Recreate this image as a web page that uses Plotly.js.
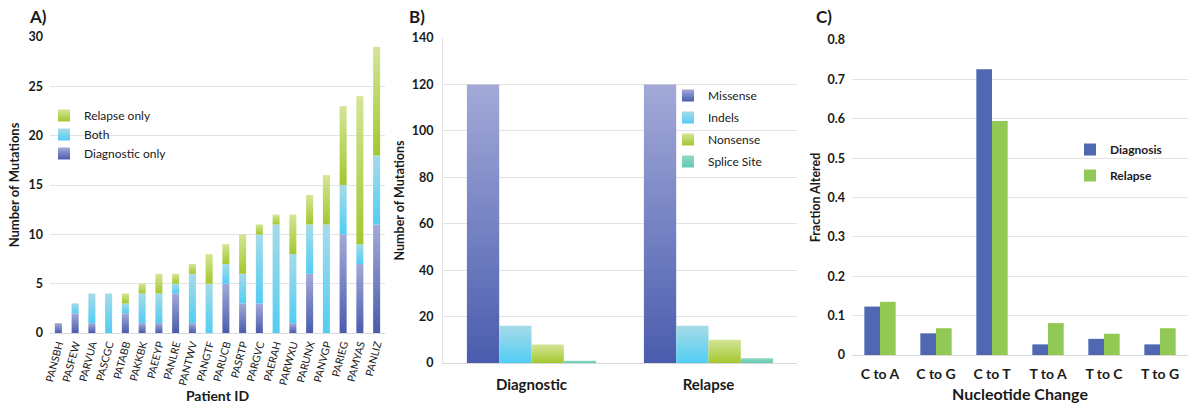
<!DOCTYPE html>
<html><head><meta charset="utf-8">
<script src="https://cdn.plot.ly/plotly-3.0.1.min.js"></script>
<style>html,body{margin:0;padding:0;background:#fff}#chart{width:1191px;height:412px}</style>
</head><body>
<svg width="0" height="0" style="position:absolute">
  <defs>
    <linearGradient id="gBlue" x1="0" y1="0" x2="0" y2="1"><stop offset="0" stop-color="#a3aad8"/><stop offset="1" stop-color="#4a5cae"/></linearGradient>
    <linearGradient id="gCyan" x1="0" y1="0" x2="0" y2="1"><stop offset="0" stop-color="#a6dbe8"/><stop offset="1" stop-color="#52cdf3"/></linearGradient>
    <linearGradient id="gGreen" x1="0" y1="0" x2="0" y2="1"><stop offset="0" stop-color="#d4e596"/><stop offset="1" stop-color="#a4c72f"/></linearGradient>
    <linearGradient id="gTeal" x1="0" y1="0" x2="0" y2="1"><stop offset="0" stop-color="#8fd8c4"/><stop offset="1" stop-color="#63cbb0"/></linearGradient>
  </defs>
</svg>
<div id="chart"></div>
<script>
// ---- Panel A data ----
const patients = ['PANSBH','PASFEW','PARVUA','PASCGC','PATABB','PAKKBK','PAEEYP','PANLRE','PANTWV','PANGTF',
                  'PARUCB','PASRTP','PARGVC','PAERAH','PARWXU','PARUNX','PANVGP','PARIEG','PAMYAS','PANLIZ'];
const diagnosticOnly = [1,2,1,0,2,1,1,4,1,0,5,3,3,0,1,6,0,10,7,11];
const bothStages     = [0,1,3,4,1,3,3,1,5,5,2,3,7,11,7,5,11,5,2,7];
const relapseOnly    = [0,0,0,0,1,1,2,1,1,3,2,4,1,1,4,3,5,8,15,11];

// ---- Panel B data ----
const stageCategories = ['Diagnostic','Relapse'];
const missense  = [120,120];
const indels    = [16,16];
const nonsense  = [8,10];
const spliceSite = [1,2];

// ---- Panel C data ----
const nucleotideChanges = ['C to A','C to G','C to T','T to A','T to C','T to G'];
const diagnosisFraction = [0.123,0.055,0.726,0.027,0.041,0.027];
const relapseFraction   = [0.135,0.068,0.594,0.081,0.054,0.068];

const FONT = 'Lato, "Open Sans", "Liberation Sans", sans-serif';
const TXT = '#1a1a1a';
const GRID = '#e3e3e3';
const W = 1191, H = 412;
const px = v => v / W;
const py = v => 1 - v / H;

const baseBoth = diagnosticOnly.map(v => v);
const baseRelapse = diagnosticOnly.map((v, i) => v + bothStages[i]);

const wA = 0.42;
const wB = 0.73 / 4;
const wC = 0.28;

const traces = [
  {type:'bar', name:'Diagnostic only', x:patients, y:diagnosticOnly, xaxis:'x', yaxis:'y',
   width:wA, offset:-wA/2, marker:{color:'#7380c4'}, legend:'legend'},
  {type:'bar', name:'Both', x:patients, y:bothStages, base:baseBoth, xaxis:'x', yaxis:'y',
   width:wA, offset:-wA/2, marker:{color:'#7fd4ee'}, legend:'legend'},
  {type:'bar', name:'Relapse only', x:patients, y:relapseOnly, base:baseRelapse, xaxis:'x', yaxis:'y',
   width:wA, offset:-wA/2, marker:{color:'#bcd664'}, legend:'legend'},

  {type:'bar', name:'Missense', x:stageCategories, y:missense, xaxis:'x2', yaxis:'y2', legendgroup:'b1',
   width:wB, offset:-2*wB, marker:{color:'#7380c4'}, legend:'legend2'},
  {type:'bar', name:'Indels', x:stageCategories, y:indels, xaxis:'x2', yaxis:'y2', legendgroup:'b2',
   width:wB, offset:-wB, marker:{color:'#7fd4ee'}, legend:'legend2'},
  {type:'bar', name:'Nonsense', x:stageCategories, y:nonsense, xaxis:'x2', yaxis:'y2', legendgroup:'b3',
   width:wB, offset:0, marker:{color:'#bcd664'}, legend:'legend2'},
  {type:'bar', name:'Splice Site', x:stageCategories, y:spliceSite, xaxis:'x2', yaxis:'y2', legendgroup:'b4',
   width:wB, offset:wB, marker:{color:'#79d0b9'}, legend:'legend2'},

  {type:'bar', name:'Diagnosis', x:nucleotideChanges, y:diagnosisFraction, xaxis:'x3', yaxis:'y3', legendgroup:'c1',
   width:wC, offset:-wC, marker:{color:'#5068b2'}, legend:'legend3'},
  {type:'bar', name:'Relapse', x:nucleotideChanges, y:relapseFraction, xaxis:'x3', yaxis:'y3', legendgroup:'c2',
   width:wC, offset:0, marker:{color:'#92c954'}, legend:'legend3'}
];

const tickBold = {family:FONT, size:12.5, color:TXT, weight:'bold'};
const yBase = {showgrid:true, gridcolor:GRID, gridwidth:1, zeroline:false, ticks:'', tickfont:tickBold,
               showline:false, fixedrange:true, ticklabelstandoff:6};
const xBase = {type:'category', showgrid:false, showline:true, linecolor:'#d9d9d9', linewidth:1, ticks:'',
               zeroline:false, fixedrange:true};

const layout = {
  width:W, height:H,
  margin:{l:0, r:0, t:0, b:0},
  paper_bgcolor:'#fff', plot_bgcolor:'#fff',
  barmode:'overlay',
  font:{family:FONT, color:TXT},
  xaxis: Object.assign({}, xBase, {domain:[px(50), px(385)], anchor:'y',
    tickangle:-75, tickfont:{family:FONT, size:10.5, color:TXT},
    title:{text:'Patient ID', font:{family:FONT, size:14, color:TXT, weight:'bold'}, standoff:5}}),
  yaxis: Object.assign({}, yBase, {domain:[py(333), py(37)], anchor:'x', range:[0,30], dtick:5,
    title:{text:'Number of Mutations', font:{family:FONT, size:13, color:TXT, weight:'bold'}, standoff:5}}),

  xaxis2: Object.assign({}, xBase, {domain:[px(443), px(797)], anchor:'y2',
    tickfont:{family:FONT, size:15, color:TXT, weight:'bold'}, ticklabelstandoff:8}),
  yaxis2: Object.assign({}, yBase, {domain:[py(363), py(38)], anchor:'x2', range:[0,140], dtick:20,
    showline:true, linecolor:'#e3e3e3',
    title:{text:'Number of Mutations', font:{family:FONT, size:12.5, color:TXT, weight:'bold'}, standoff:4}}),

  xaxis3: Object.assign({}, xBase, {domain:[px(852), px(1188)], anchor:'y3',
    tickfont:{family:FONT, size:14, color:TXT, weight:'bold'}, ticklabelstandoff:6,
    title:{text:'Nucleotide Change', font:{family:FONT, size:16, color:TXT, weight:'bold'}, standoff:8}}),
  yaxis3: Object.assign({}, yBase, {domain:[py(355), py(40)], anchor:'x3', range:[0,0.8], dtick:0.1,
    title:{text:'Fraction Altered', font:{family:FONT, size:12.5, color:TXT, weight:'bold'}, standoff:4}}),

  legend:{x:px(44), y:py(101), xanchor:'left', yanchor:'top', traceorder:'reversed',
          bgcolor:'rgba(0,0,0,0)', font:{family:FONT, size:12, color:TXT}},
  legend2:{x:px(668), y:py(81), xanchor:'left', yanchor:'top', traceorder:'grouped', tracegroupgap:3,
          bgcolor:'rgba(0,0,0,0)', font:{family:FONT, size:12, color:TXT}},
  legend3:{x:px(1070), y:py(135), xanchor:'left', yanchor:'top', traceorder:'grouped', tracegroupgap:7,
          bgcolor:'rgba(0,0,0,0)', font:{family:FONT, size:12, color:TXT, weight:'bold'}},

  annotations:[
    {text:'A)', xref:'paper', yref:'paper', x:px(27), y:py(17), xanchor:'left', yanchor:'middle', showarrow:false,
     font:{family:FONT, size:17, color:TXT, weight:'bold'}},
    {text:'B)', xref:'paper', yref:'paper', x:px(407), y:py(17), xanchor:'left', yanchor:'middle', showarrow:false,
     font:{family:FONT, size:17, color:TXT, weight:'bold'}},
    {text:'C)', xref:'paper', yref:'paper', x:px(814), y:py(17), xanchor:'left', yanchor:'middle', showarrow:false,
     font:{family:FONT, size:17, color:TXT, weight:'bold'}}
  ],
  showlegend:true
};

const gradMap = {'Diagnostic only':'gBlue','Both':'gCyan','Relapse only':'gGreen',
                 'Missense':'gBlue','Indels':'gCyan','Nonsense':'gGreen','Splice Site':'gTeal'};

function applyGradients(gd){
  gd.querySelectorAll('g.trace.bars').forEach(g => {
    const d = g.__data__; const tr = d && d[0] && d[0].trace;
    if (!tr || !gradMap[tr.name]) return;
    g.querySelectorAll('path').forEach(p => { p.style.fill = 'url(#' + gradMap[tr.name] + ')'; });
  });
  gd.querySelectorAll('g.traces').forEach(g => {
    const d = g.__data__; const tr = d && d[0] && d[0].trace;
    if (!tr || !gradMap[tr.name]) return;
    g.querySelectorAll('.legendpoints path').forEach(p => { p.style.fill = 'url(#' + gradMap[tr.name] + ')'; });
  });
}

Plotly.newPlot('chart', traces, layout, {displayModeBar:false, staticPlot:true}).then(gd => {
  applyGradients(gd);
  gd.on('plotly_afterplot', () => applyGradients(gd));
});
</script>
</body></html>
